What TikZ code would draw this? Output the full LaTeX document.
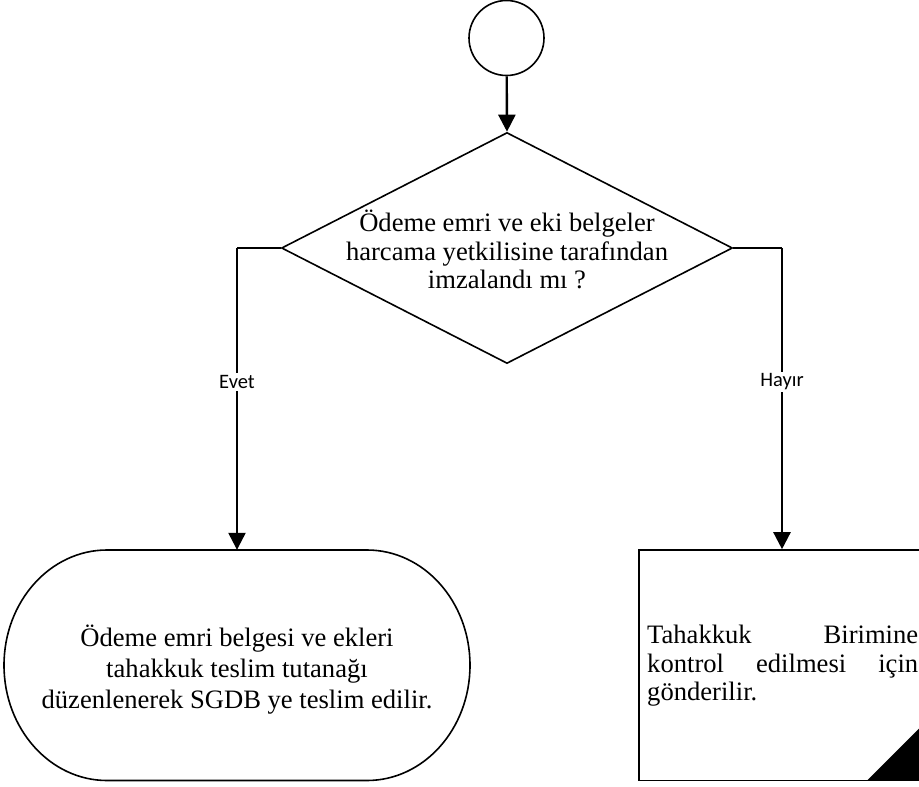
\documentclass[tikz,border=0pt]{standalone}
\usepackage{fontspec}
\setmainfont{Liberation Serif}
\newfontfamily\labelfont{Carlito}
\usetikzlibrary{arrows.meta,shapes.geometric}
\begin{document}
\begin{tikzpicture}[x=1pt,y=-1pt,
  shape line/.style={draw=black,line width=1.6pt},
  conn/.style={draw=black,line width=2.4pt},
  arr/.style={conn,-{Triangle[width=17pt,length=17pt]}},
  bodytext/.style={font=\fontsize{26.6}{28.5}\selectfont,align=center,inner sep=0pt},
  lbl/.style={font=\labelfont\fontsize{20.5}{22}\selectfont,fill=white,inner sep=2pt}]
\useasboundingbox (0,0) rectangle (919,787);
\clip (0,0) rectangle (919,787);
% start circle
\node[circle,shape line,minimum size=75pt,inner sep=0pt] (start) at (506.5,38) {};
% decision diamond
\node[diamond,shape line,minimum width=451pt,minimum height=231pt,inner sep=0pt] (dec) at (507,248) {};
\node[bodytext] (dectext) at (507,249.5) {Ödeme emri ve eki belgeler\\harcama yetkilisine tarafından\\imzalandı mı ?};
% terminator (left)
\node[minimum width=466pt,minimum height=230.5pt,inner sep=0pt] (term) at (237,665.25) {};
\draw[shape line] (107,550) -- (367,550)
  arc[start angle=-90,end angle=90,x radius=103,y radius=115.25]
  -- (107,780.5)
  arc[start angle=90,end angle=270,x radius=103,y radius=115.25] -- cycle;
\node[bodytext,font=\fontsize{26.6}{31}\selectfont] (termtext) at (237,670) {Ödeme emri belgesi ve ekleri\\tahakkuk teslim tutanağı\\düzenlenerek SGDB ye teslim edilir.};
% right box (cut by picture edge)
\node[rectangle,shape line,minimum width=300pt,minimum height=230.5pt,inner sep=0pt] (rbox) at (789,665.25) {};
\fill[black] (867,780.5) -- (930,717.5) -- (930,780.5) -- cycle;
\node[inner sep=0pt,anchor=north west,text width=271pt,font=\fontsize{26.6}{28.5}\selectfont] (rtext) at (647,625) {Tahakkuk\hfill Birimine\\kontrol\hfill edilmesi\hfill için\\gönderilir.};
% connectors
\coordinate (lc) at (237,248);
\coordinate (rc) at (782,248);
\draw[arr] (start) -- (dec.north);
\draw[conn] (dec.west) -- (lc);
\draw[arr] (lc) -- (term.north);
\draw[conn] (dec.east) -- (rc);
\draw[arr] (rc) -- (rc |- rbox.north);
\node[lbl] (evet) at (237,382) {Evet};
\node[lbl] (hayir) at (782,382) {Hayır};
\end{tikzpicture}
\end{document}
